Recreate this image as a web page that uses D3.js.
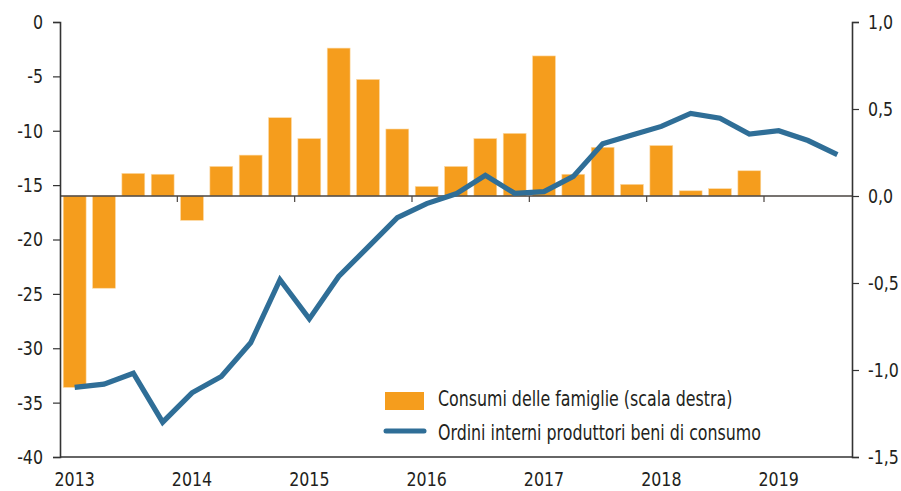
<html>
<style>
    body {
        margin: 0;
        background: #ffffff;
    }
    svg text {
        font-family: "DejaVu Sans Condensed", "Liberation Sans", sans-serif;
        fill: #231f20;
    }
</style>

<script src="https://d3js.org/d3.v7.min.js"></script>

<body>
<svg id="Chart"></svg>
</body>

<script>
// x categories
let years = [2013, 2014, 2015, 2016, 2017, 2018, 2019]
let quarters = years.flatMap(y => ["Q1", "Q2", "Q3", "Q4"].map(q => y + q)).slice(0, 27)

// Consumi delle famiglie (scala destra), 2013Q1 .. 2018Q4
let consumi = [-1.10, -0.53, 0.13, 0.125, -0.14, 0.17, 0.235, 0.45,
               0.33, 0.85, 0.67, 0.385, 0.055, 0.17, 0.33, 0.36,
               0.805, 0.125, 0.28, 0.067, 0.29, 0.03, 0.042, 0.145]

// Ordini interni produttori beni di consumo (scala sinistra), 2013Q1 .. 2019Q3
let ordini = [-33.6, -33.3, -32.3, -36.8, -34.1, -32.6, -29.5, -23.7,
              -27.3, -23.4, -20.7, -18.0, -16.7, -15.8, -14.1, -15.75,
              -15.6, -14.2, -11.2, -10.4, -9.6, -8.4, -8.85, -10.3,
              -10.0, -10.9, -12.2]

let leftTicks = [0, -5, -10, -15, -20, -25, -30, -35, -40]
let rightTicks = [1.0, 0.5, 0.0, -0.5, -1.0, -1.5]
let legendLabels = ["Consumi delle famiglie (scala destra)", "Ordini interni produttori beni di consumo"]

let width = 901, height = 491
let mLeft = 60, mRight = 852, mTop = 22, mBottom = 457
let orange = "#f59d1d", blue = "#2f6e97", ink = "#333333"

let svg = d3.select("#Chart").attr("width", width).attr("height", height)

// the original font is a condensed face: narrow the glyphs, keep the anchor point
function condense(sel, k) {
    sel.each(function() {
        let t = d3.select(this)
        let tx = +t.attr("x") || 0
        t.attr("x", tx / k).attr("transform", `scale(${k},1)`)
    })
}

let x = d3.scaleBand().domain(quarters).range([mLeft, mRight])
    .paddingInner(0.22).paddingOuter(0.11)
let xYear = d3.scaleLinear().domain([2013, 2019.75]).range([mLeft, mRight])
let yL = d3.scaleLinear().domain([-40, 0]).range([mBottom, mTop])
let yR = d3.scaleLinear().domain([-1.5, 1.0]).range([mBottom, mTop])

// bars
svg.append("g").selectAll("rect").data(consumi).enter()
    .append("rect")
    .attr("x", (d, i) => x(quarters[i]))
    .attr("width", x.bandwidth())
    .attr("y", d => yR(Math.max(0, d)))
    .attr("height", d => Math.abs(yR(d) - yR(0)))
    .attr("fill", orange)
    .attr("stroke", "#fcd9a4")
    .attr("stroke-width", 0.6)

// zero line with year ticks
let zero = svg.append("g")
zero.append("line")
    .attr("x1", mLeft).attr("x2", mRight)
    .attr("y1", yR(0)).attr("y2", yR(0))
    .attr("stroke", "#4a4440").attr("stroke-width", 1.6)
zero.selectAll(".yt").data(years.slice(1)).enter()
    .append("line")
    .attr("x1", d => xYear(d)).attr("x2", d => xYear(d))
    .attr("y1", yR(0)).attr("y2", yR(0) + 6)
    .attr("stroke", "#4a4440").attr("stroke-width", 1.2)

// line
let line = d3.line()
    .x((d, i) => x(quarters[i]) + x.bandwidth() / 2)
    .y(d => yL(d))
svg.append("path").datum(ordini)
    .attr("d", line)
    .attr("fill", "none")
    .attr("stroke", blue)
    .attr("stroke-width", 5.2)
    .attr("stroke-linejoin", "miter")

// axes
let fmtR = d => d3.format(".1f")(d).replace(".", ",").replace("−", "-")
let axL = svg.append("g").attr("transform", `translate(${mLeft},0)`)
    .call(d3.axisLeft(yL).tickValues(leftTicks).tickSize(7).tickPadding(10).tickFormat(d => String(d)))
let axR = svg.append("g").attr("transform", `translate(${mRight},0)`)
    .call(d3.axisRight(yR).tickValues(rightTicks).tickSize(7).tickPadding(9).tickFormat(fmtR))
for (let ax of [axL, axR]) {
    ax.attr("font-family", null)
    ax.select(".domain").attr("stroke", ink).attr("stroke-width", 1.6)
    ax.selectAll(".tick line").attr("stroke", ink).attr("stroke-width", 1.2)
    ax.selectAll(".tick text").attr("font-size", 20).attr("fill", "#231f20").call(condense, 0.88)
}

// bottom axis line
svg.append("line")
    .attr("x1", mLeft).attr("x2", mRight)
    .attr("y1", mBottom).attr("y2", mBottom)
    .attr("stroke", ink).attr("stroke-width", 1.6)

// year labels centred on first quarter
svg.append("g").selectAll("text").data(years).enter()
    .append("text")
    .attr("x", d => xYear(d + 0.125))
    .attr("y", 486)
    .attr("text-anchor", "middle")
    .attr("font-size", 20)
    .text(d => d)
    .call(condense, 0.88)

// legend
let lg = svg.append("g")
lg.append("rect")
    .attr("x", 385).attr("y", 392).attr("width", 39).attr("height", 18)
    .attr("fill", orange)
lg.append("line")
    .attr("x1", 386).attr("x2", 424).attr("y1", 431).attr("y2", 431)
    .attr("stroke", blue).attr("stroke-width", 5).attr("stroke-linecap", "round")
lg.selectAll("text").data(legendLabels).enter()
    .append("text")
    .attr("x", 438)
    .attr("y", (d, i) => 406 + i * 34)
    .attr("font-size", 22)
    .text(d => d)
    .call(condense, 0.80)
</script>
</html>
